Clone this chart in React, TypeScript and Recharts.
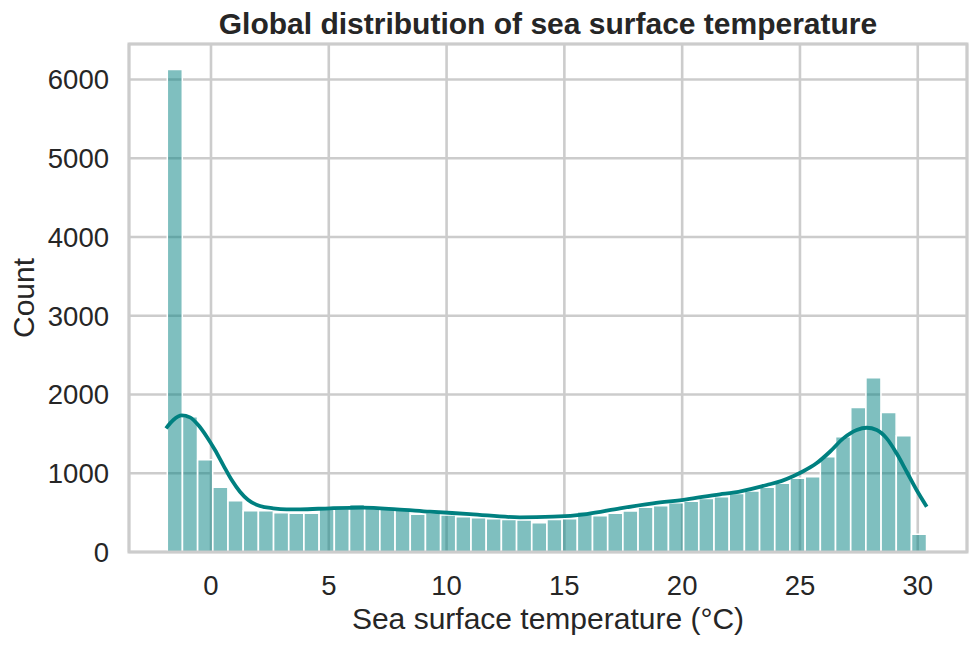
import React from "react";
import { Bar, CartesianGrid, ComposedChart, Line, XAxis, YAxis } from "recharts";

// histogram counts, 50 equal bins from about -1.86 to 30.38 °C
const binCounts = [
  6127, 1718, 1170, 822, 651, 524, 524, 499, 491, 491,
  542, 550, 605, 577, 560, 533, 478, 499, 470, 448,
  436, 423, 414, 406, 373, 414, 423, 512, 461, 491,
  521, 567, 588, 626, 643, 679, 703, 744, 774, 821,
  872, 935, 956, 1210, 1463, 1835, 2213, 1770, 1476, 225,
];

// kde curve (scaled to counts)
const kdeTemps = [
  -1.91, -1.6, -1.24, -0.89, -0.54, -0.18, 0.17, 0.52, 0.88, 1.23, 1.58, 2.08, 2.64, 3.21, 3.78,
  5.05, 6.45, 7.88, 9.29, 10.99, 13.11, 14.52, 15.95, 17.36, 18.76, 20.19, 21.6, 22.16, 23.59,
  24.2, 24.73, 25.14, 25.7, 26.27, 26.84, 27.41, 27.83, 28.26, 28.68, 29.1, 29.53, 29.95, 30.38,
];
const kdeCounts = [
  1570, 1676, 1735, 1710, 1612, 1464, 1295, 1104, 914, 765, 660, 584, 555, 542, 542,
  555, 563, 542, 512, 482, 440, 448, 482, 555, 618, 669, 733, 753, 851,
  900, 965, 1025, 1126, 1273, 1443, 1549, 1578, 1549, 1443, 1253, 1019, 787, 575,
];

const xTicks = [0, 5, 10, 15, 20, 25, 30];
const yTicks = [0, 1000, 2000, 3000, 4000, 5000, 6000];

const bins = binCounts.map((count, i) => ({ bin: String(i), count }));
const kde = kdeTemps.map((t, i) => ({ t, value: kdeCounts[i] }));

const font = "'Liberation Sans', Arial, sans-serif";
const ink = "#262626";
const gridColor = "#cccccc";

const W = 977;
const H = 645;
const plot = { left: 129, right: 967, top: 44, bottom: 552 };

export default function App() {
  const cx = (plot.left + plot.right) / 2;
  const cy = (plot.top + plot.bottom) / 2;
  return (
    <div style={{ position: "absolute", left: 0, top: 0, width: W, height: H, background: "#fff" }}>
      <ComposedChart
        width={W}
        height={H}
        data={bins}
        barCategoryGap={0}
        margin={{ top: plot.top, right: W - plot.right, bottom: 0, left: 0 }}
      >
        <CartesianGrid xAxisId="num" stroke={gridColor} strokeWidth={2.6} />
        <XAxis
          xAxisId="num"
          type="number"
          dataKey="t"
          domain={[-3.48, 32.09]}
          allowDataOverflow
          ticks={xTicks}
          axisLine={false}
          tickLine={false}
          tickSize={0}
          tickMargin={23}
          height={H - plot.bottom}
          tick={{ fontSize: 27.5, fill: ink, fontFamily: font }}
        />
        <XAxis
          xAxisId="cat"
          dataKey="bin"
          type="category"
          hide
          height={0}
          padding={{ left: 38.3, right: 40.3 }}
        />
        <YAxis
          domain={[0, 6451]}
          allowDataOverflow
          ticks={yTicks}
          axisLine={false}
          tickLine={false}
          tickSize={0}
          tickMargin={20}
          width={plot.left}
          tick={{ fontSize: 27.5, fill: ink, fontFamily: font }}
        />
        <Bar
          xAxisId="cat"
          dataKey="count"
          fill="#008080"
          fillOpacity={0.5}
          stroke="#ffffff"
          strokeWidth={1.5}
          isAnimationActive={false}
        />
        <Line
          xAxisId="num"
          data={kde}
          dataKey="value"
          type="monotone"
          stroke="#008080"
          strokeWidth={3.8}
          dot={false}
          isAnimationActive={false}
        />
      </ComposedChart>
      <svg width={W} height={H} style={{ position: "absolute", left: 0, top: 0, pointerEvents: "none" }}>
        <rect
          x={plot.left}
          y={plot.top}
          width={plot.right - plot.left}
          height={plot.bottom - plot.top}
          fill="none"
          stroke={gridColor}
          strokeWidth={3}
        />
        <text x={cx} y={34} textAnchor="middle" fontFamily={font} fontSize={30} fontWeight="bold" fill={ink}>
          Global distribution of sea surface temperature
        </text>
        <text x={cx} y={628.5} textAnchor="middle" fontFamily={font} fontSize={30} fill={ink}>
          Sea surface temperature (°C)
        </text>
        <text
          transform={`translate(33.5, ${cy}) rotate(-90)`}
          textAnchor="middle"
          fontFamily={font}
          fontSize={30}
          fill={ink}
        >
          Count
        </text>
      </svg>
    </div>
  );
}
